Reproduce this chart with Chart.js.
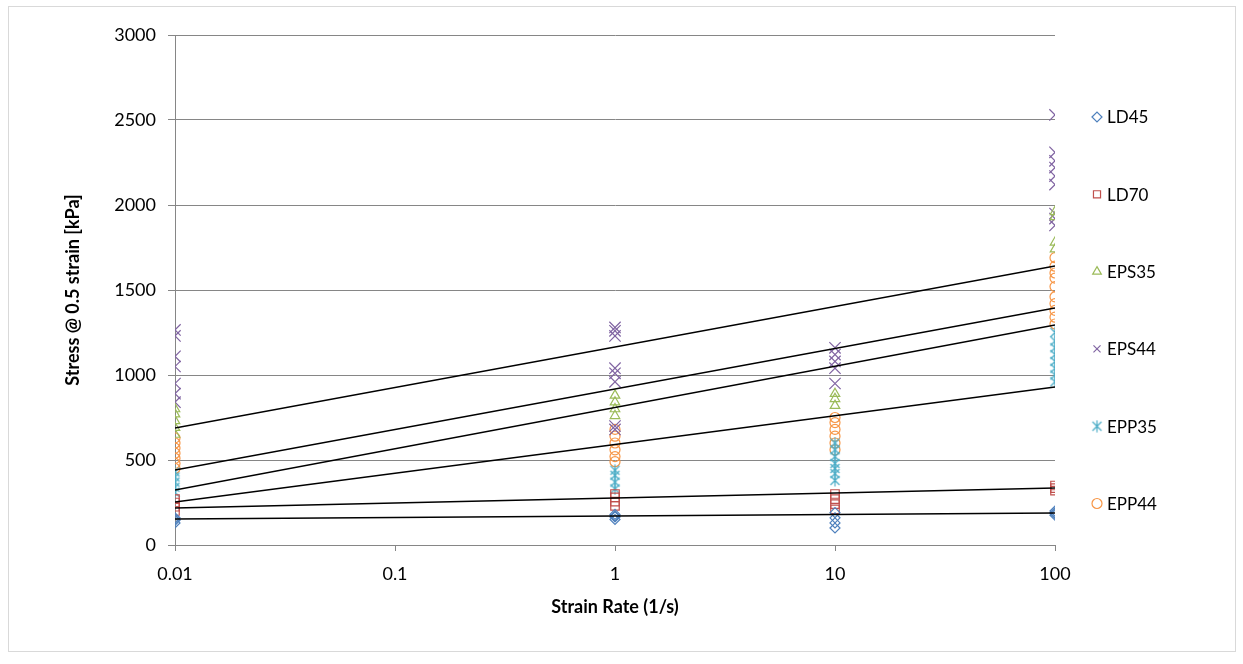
<!DOCTYPE html>
<html>
<head>
<meta charset="utf-8">
<title>Stress vs strain rate</title>
<script src="https://cdn.jsdelivr.net/npm/chart.js@4/dist/chart.umd.min.js"></script>
<style>
  body { margin: 0; background: #fff; }
  #wrap { position: relative; width: 1243px; height: 664px; }
  #frame { position: absolute; left: 8px; top: 6px; width: 1226px; height: 644px;
           border: 1px solid #d9d9d9; pointer-events: none; }
</style>
</head>
<body>
<div id="wrap">
  <canvas id="stressChart" width="1243" height="664"></canvas>
  <div id="frame"></div>
</div>
<script>
// strain rates (1/s) at which the foams were tested
const rates = [0.01, 1, 10, 100];
const xTicks = [0.01, 0.1, 1, 10, 100];

// stress at 0.5 strain [kPa], one inner list per strain rate
const ld45  = [[130, 145, 150, 160], [150, 165, 170, 180], [100, 130, 160, 190], [175, 185, 190, 200]];
const ld70  = [[200, 225, 250, 270], [230, 255, 280, 300], [210, 240, 270, 300], [320, 335, 350]];
const eps35 = [[650, 690, 730, 770, 800], [760, 800, 840, 880], [820, 860, 890], [1740, 1780, 1930, 1960]];
const eps44 = [[840, 890, 950, 1050, 1110, 1230, 1265], [680, 700, 960, 1010, 1040, 1230, 1260, 1280],
               [950, 1040, 1080, 1120, 1160], [1880, 1920, 1950, 2120, 2170, 2220, 2260, 2310, 2530]];
const epp35 = [[310, 340, 370, 400, 430], [330, 370, 410, 440], [380, 420, 450, 480, 520, 560, 600],
               [960, 1000, 1040, 1080, 1120, 1160, 1200, 1250]];
const epp44 = [[450, 480, 510, 540, 570, 600, 630], [490, 520, 560, 600, 640, 680], [560, 600, 640, 680, 720, 750],
               [1300, 1340, 1380, 1420, 1460, 1520, 1570, 1600, 1640, 1690]];

// logarithmic trend lines, value at 0.01 1/s and at 100 1/s
const trendNames = ['EPS44', 'EPS35', 'EPP44', 'EPP35', 'LD70', 'LD45'];
const trendLow  = [688, 441, 324, 253, 218, 153];
const trendHigh = [1641, 1394, 1294, 929, 335, 188];

function asterisk(color) {
  const c = document.createElement('canvas');
  c.width = 13; c.height = 13;
  const g = c.getContext('2d');
  g.strokeStyle = color;
  g.lineWidth = 1.2;
  g.beginPath();
  g.moveTo(2, 2); g.lineTo(11, 11);
  g.moveTo(11, 2); g.lineTo(2, 11);
  g.moveTo(6.5, 0.5); g.lineTo(6.5, 12.5);
  g.stroke();
  return c;
}

function toPoints(values) {
  const pts = [];
  values.forEach((list, i) => list.forEach(v => pts.push({ x: rates[i], y: v })));
  return pts;
}

const series = [
  { label: 'LD45',  values: ld45,  color: '#4f81bd', style: 'rectRot',  radius: 5 },
  { label: 'LD70',  values: ld70,  color: '#c0504d', style: 'rect',     radius: 6 },
  { label: 'EPS35', values: eps35, color: '#9bbb59', style: 'triangle', radius: 5.5 },
  { label: 'EPS44', values: eps44, color: '#8064a2', style: 'crossRot', radius: 8 },
  { label: 'EPP35', values: epp35, color: '#4bacc6', style: null,       radius: 6 },
  { label: 'EPP44', values: epp44, color: '#f79646', style: 'circle',   radius: 5 }
];

const datasets = series.map((s, i) => ({
  label: s.label,
  type: 'scatter',
  data: toPoints(s.values),
  pointStyle: s.style || asterisk(s.color),
  pointRadius: s.radius,
  borderColor: s.color,
  backgroundColor: 'rgba(255,255,255,0)',
  borderWidth: 1.2,
  order: 10 + i
}));

trendNames.forEach((name, i) => {
  datasets.push({
    label: name + ' trend',
    isTrend: true,
    type: 'line',
    data: [{ x: rates[0], y: trendLow[i] }, { x: rates[rates.length - 1], y: trendHigh[i] }],
    borderColor: '#000',
    borderWidth: 1.5,
    pointRadius: 0,
    fill: false,
    order: 1
  });
});

const family = 'Lato, "Open Sans", sans-serif';
const font = { family: family, size: 18 };
const titleFont = { family: family, size: 18, weight: 'bold' };

// legend drawn to the right of the plot, one row per material
const sideLegend = {
  id: 'sideLegend',
  afterDraw(chart) {
    const { ctx, chartArea } = chart;
    const items = chart.data.datasets.filter(d => !d.isTrend);
    ctx.save();
    ctx.font = '17px ' + family;
    ctx.textBaseline = 'middle';
    items.forEach((ds, i) => {
      const y = chartArea.top + 82 + i * 77.3;
      const x = chartArea.right + 42;
      ctx.strokeStyle = ds.borderColor;
      ctx.fillStyle = 'rgba(255,255,255,0)';
      ctx.lineWidth = ds.borderWidth;
      Chart.helpers.drawPoint(ctx, { pointStyle: ds.pointStyle, radius: Math.min(ds.pointRadius, 5), borderWidth: ds.borderWidth, rotation: 0 }, x, y);
      ctx.fillStyle = '#000';
      ctx.fillText(ds.label, x + 10, y + 1);
    });
    ctx.restore();
  }
};

new Chart(document.getElementById('stressChart'), {
  type: 'scatter',
  data: { datasets: datasets },
  options: {
    responsive: false,
    animation: false,
    layout: { padding: { left: 62, right: 188, top: 35, bottom: 46 } },
    plugins: { legend: { display: false }, tooltip: { enabled: false } },
    scales: {
      x: {
        type: 'logarithmic',
        min: 0.01,
        max: 100,
        afterBuildTicks: s => { s.ticks = xTicks.map(v => ({ value: v })); },
        afterFit: s => { s.height = 73; },
        ticks: { callback: v => String(v), font: font, color: '#000', padding: 12, autoSkip: false, maxRotation: 0 },
        grid: { drawOnChartArea: false, color: '#868686', tickLength: 6 },
        border: { color: '#868686' },
        title: { display: true, text: 'Strain Rate (1/s)', font: titleFont, color: '#000', padding: 0 }
      },
      y: {
        min: 0,
        max: 3000,
        afterFit: s => { s.width = 113; },
        ticks: { stepSize: 500, callback: v => String(v), font: font, color: '#000', padding: 12 },
        grid: { color: '#868686', tickLength: 7 },
        border: { color: '#868686' },
        title: { display: true, text: 'Stress @ 0.5 strain [kPa]', font: titleFont, color: '#000', padding: 0 }
      }
    }
  },
  plugins: [sideLegend]
});
</script>
</body>
</html>
